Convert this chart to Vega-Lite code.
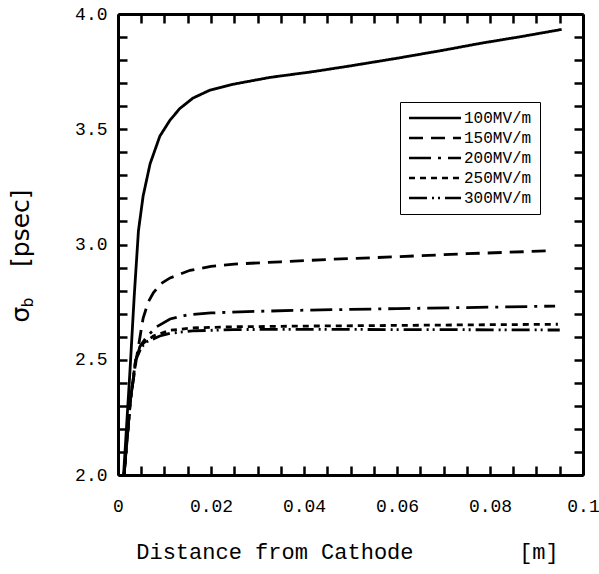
{
  "$schema": "https://vega.github.io/schema/vega-lite/v6.json",
  "width": 465,
  "height": 461,
  "autosize": {"type": "none"},
  "padding": {"left": 118, "top": 14, "right": 16, "bottom": 99},
  "background": "white",
  "config": {"view": {"stroke": null, "fill": null}},
  "data": {"values": [
    {"x": 0.0012, "y": 2.0, "s": "100MV/m"},
    {"x": 0.0026, "y": 2.46, "s": "100MV/m"},
    {"x": 0.0035, "y": 2.78, "s": "100MV/m"},
    {"x": 0.0044, "y": 3.06, "s": "100MV/m"},
    {"x": 0.0054, "y": 3.21, "s": "100MV/m"},
    {"x": 0.0069, "y": 3.35, "s": "100MV/m"},
    {"x": 0.009, "y": 3.47, "s": "100MV/m"},
    {"x": 0.0112, "y": 3.54, "s": "100MV/m"},
    {"x": 0.0133, "y": 3.59, "s": "100MV/m"},
    {"x": 0.0161, "y": 3.635, "s": "100MV/m"},
    {"x": 0.0198, "y": 3.67, "s": "100MV/m"},
    {"x": 0.0247, "y": 3.695, "s": "100MV/m"},
    {"x": 0.0327, "y": 3.725, "s": "100MV/m"},
    {"x": 0.042, "y": 3.75, "s": "100MV/m"},
    {"x": 0.05, "y": 3.775, "s": "100MV/m"},
    {"x": 0.06, "y": 3.808, "s": "100MV/m"},
    {"x": 0.07, "y": 3.843, "s": "100MV/m"},
    {"x": 0.078, "y": 3.873, "s": "100MV/m"},
    {"x": 0.087, "y": 3.903, "s": "100MV/m"},
    {"x": 0.0954, "y": 3.933, "s": "100MV/m"},

    {"x": 0.0013, "y": 2.0, "s": "150MV/m"},
    {"x": 0.0027, "y": 2.33, "s": "150MV/m"},
    {"x": 0.004, "y": 2.51, "s": "150MV/m"},
    {"x": 0.0054, "y": 2.68, "s": "150MV/m"},
    {"x": 0.0065, "y": 2.75, "s": "150MV/m"},
    {"x": 0.0076, "y": 2.79, "s": "150MV/m"},
    {"x": 0.0092, "y": 2.83, "s": "150MV/m"},
    {"x": 0.0112, "y": 2.855, "s": "150MV/m"},
    {"x": 0.0155, "y": 2.888, "s": "150MV/m"},
    {"x": 0.02, "y": 2.905, "s": "150MV/m"},
    {"x": 0.025, "y": 2.915, "s": "150MV/m"},
    {"x": 0.035, "y": 2.925, "s": "150MV/m"},
    {"x": 0.045, "y": 2.935, "s": "150MV/m"},
    {"x": 0.06, "y": 2.947, "s": "150MV/m"},
    {"x": 0.075, "y": 2.96, "s": "150MV/m"},
    {"x": 0.0935, "y": 2.973, "s": "150MV/m"},

    {"x": 0.0013, "y": 2.0, "s": "200MV/m"},
    {"x": 0.0027, "y": 2.33, "s": "200MV/m"},
    {"x": 0.0038, "y": 2.49, "s": "200MV/m"},
    {"x": 0.0047, "y": 2.557, "s": "200MV/m"},
    {"x": 0.0062, "y": 2.6, "s": "200MV/m"},
    {"x": 0.0083, "y": 2.643, "s": "200MV/m"},
    {"x": 0.0112, "y": 2.677, "s": "200MV/m"},
    {"x": 0.015, "y": 2.695, "s": "200MV/m"},
    {"x": 0.02, "y": 2.703, "s": "200MV/m"},
    {"x": 0.0262, "y": 2.708, "s": "200MV/m"},
    {"x": 0.04, "y": 2.715, "s": "200MV/m"},
    {"x": 0.06, "y": 2.722, "s": "200MV/m"},
    {"x": 0.08, "y": 2.728, "s": "200MV/m"},
    {"x": 0.094, "y": 2.733, "s": "200MV/m"},

    {"x": 0.0013, "y": 2.0, "s": "250MV/m"},
    {"x": 0.0027, "y": 2.33, "s": "250MV/m"},
    {"x": 0.0038, "y": 2.5, "s": "250MV/m"},
    {"x": 0.0054, "y": 2.571, "s": "250MV/m"},
    {"x": 0.0076, "y": 2.603, "s": "250MV/m"},
    {"x": 0.0112, "y": 2.628, "s": "250MV/m"},
    {"x": 0.016, "y": 2.638, "s": "250MV/m"},
    {"x": 0.025, "y": 2.643, "s": "250MV/m"},
    {"x": 0.04, "y": 2.646, "s": "250MV/m"},
    {"x": 0.06, "y": 2.649, "s": "250MV/m"},
    {"x": 0.08, "y": 2.652, "s": "250MV/m"},
    {"x": 0.0946, "y": 2.654, "s": "250MV/m"},

    {"x": 0.0013, "y": 2.0, "s": "300MV/m"},
    {"x": 0.0027, "y": 2.33, "s": "300MV/m"},
    {"x": 0.0038, "y": 2.5, "s": "300MV/m"},
    {"x": 0.0048, "y": 2.55, "s": "300MV/m"},
    {"x": 0.0062, "y": 2.578, "s": "300MV/m"},
    {"x": 0.009, "y": 2.603, "s": "300MV/m"},
    {"x": 0.0112, "y": 2.615, "s": "300MV/m"},
    {"x": 0.016, "y": 2.625, "s": "300MV/m"},
    {"x": 0.025, "y": 2.631, "s": "300MV/m"},
    {"x": 0.04, "y": 2.632, "s": "300MV/m"},
    {"x": 0.06, "y": 2.631, "s": "300MV/m"},
    {"x": 0.08, "y": 2.63, "s": "300MV/m"},
    {"x": 0.095, "y": 2.629, "s": "300MV/m"}
  ]},
  "resolve": {"axis": {"x": "independent", "y": "independent"}},
  "layer": [
    {
      "mark": {"type": "line", "color": "black", "strokeWidth": 2.8, "clip": true},
      "encoding": {
        "x": {
          "field": "x", "type": "quantitative",
          "scale": {"domain": [0, 0.1], "nice": false, "zero": false},
          "axis": {
            "orient": "bottom",
            "values": [0,0.005,0.01,0.015,0.02,0.025,0.03,0.035,0.04,0.045,0.05,0.055,0.06,0.065,0.07,0.075,0.08,0.085,0.09,0.095,0.1],
            "labelExpr": "abs(datum.value*50-round(datum.value*50))<0.01 ? (datum.value==0 ? '0' : format(datum.value,'~g')) : ''",
            "tickSize": -9, "tickWidth": 2.5, "tickColor": "black",
            "domainWidth": 3, "domainColor": "black",
            "grid": false, "labelOverlap": false, "labelFlush": false,
            "labelFont": "Liberation Mono", "labelFontSize": 18, "labelColor": "black", "labelPadding": 31,
            "title": "Distance from Cathode\u00a0\u00a0\u00a0\u00a0\u00a0\u00a0\u00a0\u00a0[m]",
            "titleFont": "Liberation Mono", "titleFontSize": 22, "titleFontWeight": "normal", "titleColor": "black", "titlePadding": 26, "titleX": 229
          }
        },
        "y": {
          "field": "y", "type": "quantitative",
          "scale": {"domain": [2, 4], "nice": false, "zero": false},
          "axis": {
            "orient": "left",
            "values": [2,2.1,2.2,2.3,2.4,2.5,2.6,2.7,2.8,2.9,3,3.1,3.2,3.3,3.4,3.5,3.6,3.7,3.8,3.9,4],
            "labelExpr": "abs(datum.value*2-round(datum.value*2))<0.01 ? format(datum.value,'.1f') : ''",
            "tickSize": -9, "tickWidth": 2.5, "tickColor": "black",
            "domainWidth": 3, "domainColor": "black",
            "grid": false, "labelOverlap": false, "labelFlush": false,
            "labelFont": "Liberation Mono", "labelFontSize": 18, "labelColor": "black", "labelPadding": 20,
            "title": "σ\u00a0\u00a0\u00a0\u00a0\u00a0[psec]",
            "titleFont": "DejaVu Sans", "titleFontSize": 25, "titleFontWeight": "normal", "titleColor": "black",
            "titleAngle": 270, "titleAlign": "left", "titleBaseline": "alphabetic",
            "titleX": -90, "titleY": 308
          }
        },
        "strokeDash": {
          "field": "s", "type": "nominal",
          "scale": {
            "domain": ["100MV/m", "150MV/m", "200MV/m", "250MV/m", "300MV/m"],
            "range": [[1, 0], [14, 8], [22, 7, 3, 7], [6, 5], [18, 5, 2, 4, 2, 5]]
          },
          "legend": {
            "orient": "none", "legendX": 282, "legendY": 88,
            "title": null,
            "symbolType": "M-5.2,0H5.2", "symbolSize": 100, "symbolOffset": 19,
            "symbolStrokeWidth": 2.5, "symbolStrokeColor": "black",
            "labelFont": "Liberation Mono", "labelFontSize": 16, "labelColor": "black",
            "labelOffset": 21,
            "rowPadding": 4,
            "padding": 8,
            "strokeColor": "black", "fillColor": "white"
          }
        }
      }
    },
    {
      "mark": {"type": "line", "strokeOpacity": 0, "clip": true},
      "encoding": {
        "x": {
          "field": "x", "type": "quantitative",
          "axis": {
            "orient": "top",
            "values": [0,0.005,0.01,0.015,0.02,0.025,0.03,0.035,0.04,0.045,0.05,0.055,0.06,0.065,0.07,0.075,0.08,0.085,0.09,0.095,0.1],
            "labels": false,
            "tickSize": -9, "tickWidth": 2.5, "tickColor": "black",
            "domainWidth": 3, "domainColor": "black", "grid": false,
            "title": "b",
            "titleFont": "DejaVu Sans", "titleFontSize": 15, "titleFontWeight": "normal", "titleColor": "black",
            "titleAngle": 270, "titleAlign": "center", "titleBaseline": "middle",
            "titleX": -91, "titleY": 288
          }
        },
        "y": {
          "field": "y", "type": "quantitative",
          "axis": {
            "orient": "right",
            "values": [2,2.1,2.2,2.3,2.4,2.5,2.6,2.7,2.8,2.9,3,3.1,3.2,3.3,3.4,3.5,3.6,3.7,3.8,3.9,4],
            "labels": false,
            "tickSize": -9, "tickWidth": 2.5, "tickColor": "black",
            "domainWidth": 3, "domainColor": "black", "grid": false,
            "title": null
          }
        },
        "detail": {"field": "s", "type": "nominal"}
      }
    }
  ]
}
